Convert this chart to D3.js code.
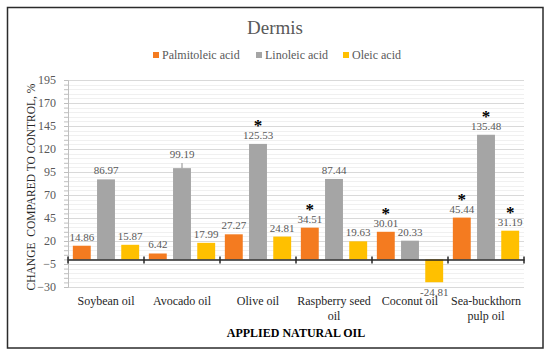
<!DOCTYPE html>
<html>
<head>
<meta charset="utf-8">
<script src="https://cdn.jsdelivr.net/npm/d3@7"></script>
<style>
  body { margin: 0; background: #fff; }
</style>
</head>
<body>
<div id="chart"></div>
<script>
// chart data
var categories  = ["Soybean oil", "Avocado oil", "Olive oil", "Raspberry seed oil", "Coconut oil", "Sea-buckthorn pulp oil"];
var seriesNames = ["Palmitoleic acid", "Linoleic acid", "Oleic acid"];
var palmitoleic = [14.86, 6.42, 27.27, 34.51, 30.01, 45.44];
var linoleic    = [86.97, 99.19, 125.53, 87.44, 20.33, 135.48];
var oleic       = [15.87, 17.99, 24.81, 19.63, -24.81, 31.19];
// significance marks (*) per series
var sigPalmitoleic = [false, false, false, true, true, true];
var sigLinoleic    = [false, false, true, false, false, true];
var sigOleic       = [false, false, false, false, false, true];
// error bar (only visible one)
var errLinoleic = [0, 5.5, 0, 0, 0, 0];
var yTicks = [-30, -5, 20, 45, 70, 95, 120, 145, 170, 195];

var colors = ["#F47B20", "#A5A5A5", "#FFC000"];
var values = [palmitoleic, linoleic, oleic];
var sigs   = [sigPalmitoleic, sigLinoleic, sigOleic];
var errs   = [null, errLinoleic, null];

var FONT = "'Liberation Serif', 'Times New Roman', Times, serif";
var width = 550, height = 358;
var plot = { left: 68, right: 524, top: 80, bottom: 287 };

var svg = d3.select("#chart").append("svg")
    .attr("width", width)
    .attr("height", height)
    .attr("font-family", FONT);

// outer frame
svg.append("rect")
    .attr("x", 7.5).attr("y", 7.5)
    .attr("width", 535.5).attr("height", 340.5)
    .attr("fill", "#fff")
    .attr("stroke", "#2b2b2b")
    .attr("stroke-width", 1.5);

var y = d3.scaleLinear().domain([-30, 195]).range([plot.bottom, plot.top]);
var x0 = d3.scaleBand().domain(categories).range([plot.left, plot.right]).padding(0);
var x1 = d3.scaleBand().domain([0, 1, 2]).range([0, x0.bandwidth()])
    .paddingInner(0.26).paddingOuter(0.2);

// minor grid every 5
var minor = d3.range(-30, 196, 5).filter(function(v) { return yTicks.indexOf(v) < 0; });
svg.append("g").selectAll("line").data(minor).enter().append("line")
    .attr("x1", plot.left).attr("x2", plot.right)
    .attr("y1", function(d) { return Math.round(y(d)) + 0.5; })
    .attr("y2", function(d) { return Math.round(y(d)) + 0.5; })
    .attr("stroke", "#f0f0f0").attr("stroke-width", 1);

// major grid
svg.append("g").selectAll("line").data(yTicks).enter().append("line")
    .attr("x1", plot.left).attr("x2", plot.right)
    .attr("y1", function(d) { return Math.round(y(d)) + 0.5; })
    .attr("y2", function(d) { return Math.round(y(d)) + 0.5; })
    .attr("stroke", "#d9d9d9").attr("stroke-width", 1);

// y axis with minor ticks
var yAxisMinor = d3.axisLeft(y).tickValues(d3.range(-30, 196, 5)).tickSize(4).tickFormat("");
svg.append("g")
    .attr("transform", "translate(" + plot.left + ",0)")
    .call(yAxisMinor)
    .call(function(g) {
      g.select(".domain").attr("stroke", "#bfbfbf");
      g.selectAll(".tick line").attr("stroke", "#bfbfbf");
    });

var yAxis = d3.axisLeft(y).tickValues(yTicks).tickSize(0).tickPadding(12);
svg.append("g")
    .attr("transform", "translate(" + plot.left + ",0)")
    .call(yAxis)
    .attr("font-family", FONT)
    .attr("font-size", 12)
    .call(function(g) {
      g.select(".domain").remove();
      g.selectAll(".tick text").attr("fill", "#595959");
    });

// bars
var groups = svg.append("g").selectAll("g").data(categories).enter().append("g")
    .attr("transform", function(d) { return "translate(" + x0(d) + ",0)"; });

groups.each(function(cat, ci) {
  var g = d3.select(this);
  values.forEach(function(arr, si) {
    var v = arr[ci];
    var bx = x1(si), bw = x1.bandwidth();
    g.append("rect")
      .attr("x", bx).attr("width", bw)
      .attr("y", y(Math.max(0, v)))
      .attr("height", Math.abs(y(v) - y(0)))
      .attr("fill", colors[si]);

    var top = y(Math.max(0, v));
    if (errs[si] && errs[si][ci] > 0) {
      g.append("line")
        .attr("x1", bx + bw / 2).attr("x2", bx + bw / 2)
        .attr("y1", y(v)).attr("y2", y(v + errs[si][ci]))
        .attr("stroke", "#8c8c8c").attr("stroke-width", 1);
      top = y(v + errs[si][ci]);
    }

    var labelY = v >= 0 ? top - 5 : y(v) + 14;
    g.append("text")
      .attr("x", bx + bw / 2)
      .attr("y", labelY)
      .attr("text-anchor", "middle")
      .attr("fill", "#595959")
      .attr("font-size", 11)
      .text(v.toFixed(2));

    if (sigs[si][ci]) {
      g.append("text")
        .attr("x", bx + bw / 2)
        .attr("y", labelY - 7.5)
        .attr("text-anchor", "middle")
        .attr("fill", "#000")
        .attr("font-size", 17)
        .attr("font-weight", "bold")
        .text("*");
    }
  });
});

// zero axis line with category ticks
var xAxis = d3.axisBottom(x0).tickSize(0).tickFormat("");
svg.append("g")
    .attr("transform", "translate(0," + y(0) + ")")
    .call(xAxis)
    .call(function(g) {
      g.select(".domain").attr("stroke", "#262626").attr("stroke-width", 1.5);
    });
var sep = d3.range(categories.length + 1).map(function(i) { return plot.left + i * x0.bandwidth(); });
svg.append("g").selectAll("line").data(sep).enter().append("line")
    .attr("x1", function(d) { return d; }).attr("x2", function(d) { return d; })
    .attr("y1", y(0) - 3).attr("y2", y(0) + 4)
    .attr("stroke", "#262626").attr("stroke-width", 1.5);

// category labels, wrapped
var catLabels = svg.append("g").selectAll("text").data(categories).enter().append("text")
    .attr("x", function(d) { return x0(d) + x0.bandwidth() / 2; })
    .attr("y", 305)
    .attr("text-anchor", "middle")
    .attr("fill", "#262626")
    .attr("font-size", 12);
catLabels.each(function(d) {
  var t = d3.select(this), words = d.split(" "), line = [];
  var ts = t.append("tspan").attr("x", t.attr("x")).attr("dy", 0);
  words.forEach(function(w) {
    line.push(w);
    ts.text(line.join(" "));
    if (ts.node().getComputedTextLength() > 74 && line.length > 1) {
      line.pop();
      ts.text(line.join(" "));
      line = [w];
      ts = t.append("tspan").attr("x", t.attr("x")).attr("dy", 15).text(w);
    }
  });
});

// title
svg.append("text")
    .attr("x", 275).attr("y", 34)
    .attr("text-anchor", "middle")
    .attr("fill", "#595959")
    .attr("font-size", 19)
    .text("Dermis");

// legend
var legX = [153, 256, 343];
var legend = svg.append("g").selectAll("g").data(seriesNames).enter().append("g")
    .attr("transform", function(d, i) { return "translate(" + legX[i] + ",55)"; });
legend.append("rect")
    .attr("x", 0).attr("y", -3).attr("width", 6).attr("height", 6)
    .attr("fill", function(d, i) { return colors[i]; });
legend.append("text")
    .attr("x", 9).attr("y", 4)
    .attr("fill", "#595959")
    .attr("font-size", 12)
    .text(function(d) { return d; });

// y axis title
svg.append("text")
    .attr("transform", "translate(35,187) rotate(-90)")
    .attr("text-anchor", "middle")
    .attr("fill", "#262626")
    .attr("font-size", 11.5)
    .attr("xml:space", "preserve")
    .style("white-space", "pre")
    .text("CHANGE  COMPARED TO CONTROL, %");

// x axis title
svg.append("text")
    .attr("x", 296).attr("y", 337)
    .attr("text-anchor", "middle")
    .attr("fill", "#000")
    .attr("font-size", 12)
    .attr("font-weight", "bold")
    .text("APPLIED NATURAL OIL");
</script>
</body>
</html>
